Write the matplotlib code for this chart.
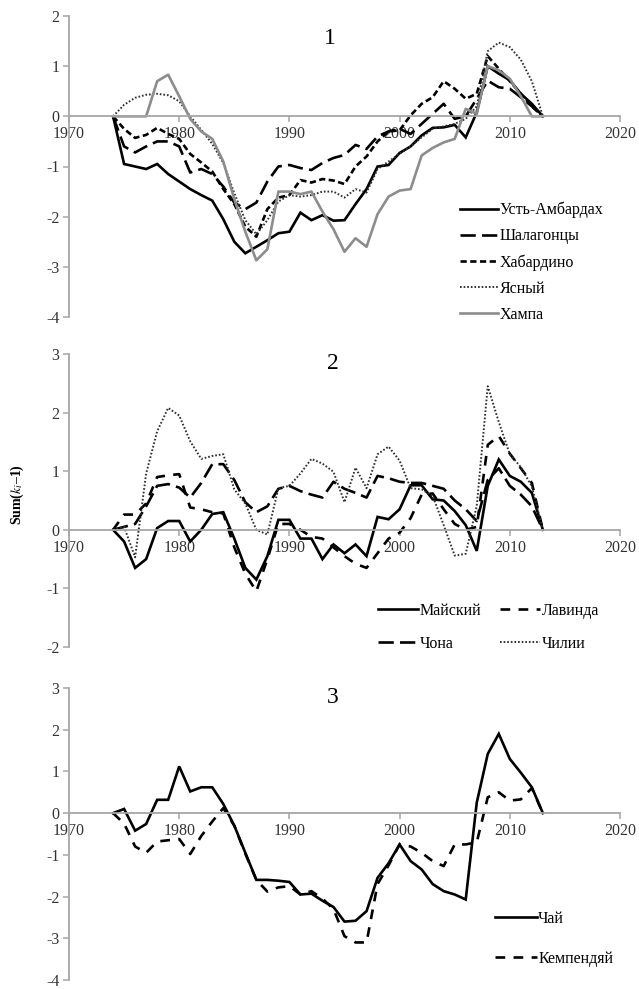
import matplotlib
matplotlib.use("Agg")
import matplotlib.pyplot as plt

plt.rcParams['font.family'] = ['Liberation Serif', 'DejaVu Serif']
plt.rcParams['mathtext.fontset'] = 'stix'
plt.rcParams['axes.unicode_minus'] = False
plt.rcParams['lines.scale_dashes'] = False

# ---- data: cumulative sums of (k_i - 1), 1974-2013 ----
years = list(range(1974, 2014))

# panel 1
ust_ambardakh = [0, -0.95, -1.0, -1.05, -0.95, -1.15, -1.3, -1.45, -1.57, -1.68,
                 -2.05, -2.5, -2.73, -2.6, -2.47, -2.33, -2.3, -1.92, -2.07, -1.97,
                 -2.08, -2.07, -1.75, -1.45, -1.0, -0.97, -0.73, -0.6, -0.38, -0.23,
                 -0.22, -0.17, -0.42, 0.08, 1.0, 0.85, 0.72, 0.45, 0.25, 0]
shalagontsy = [0, -0.6, -0.72, -0.6, -0.5, -0.5, -0.6, -1.12, -1.05, -1.15,
               -1.4, -1.72, -1.85, -1.72, -1.3, -1.0, -0.97, -1.03, -1.07, -0.93,
               -0.83, -0.77, -0.57, -0.65, -0.4, -0.3, -0.25, -0.35, -0.15, 0.05,
               0.25, -0.05, 0.0, 0.35, 0.71, 0.58, 0.55, 0.38, 0.2, 0]
khabardino = [0, -0.25, -0.43, -0.37, -0.23, -0.35, -0.45, -0.75, -0.92, -1.1,
              -1.45, -1.75, -2.2, -2.4, -1.85, -1.62, -1.57, -1.27, -1.32, -1.25,
              -1.28, -1.35, -1.0, -0.8, -0.5, -0.3, -0.28, 0.02, 0.25, 0.38,
              0.7, 0.55, 0.35, 0.45, 1.2, 0.95, 0.7, 0.45, 0.2, 0]
yasny = [0, 0.23, 0.37, 0.43, 0.45, 0.42, 0.3, 0.0, -0.27, -0.55,
         -0.93, -1.53, -2.07, -2.35, -2.07, -1.7, -1.57, -1.6, -1.57, -1.5,
         -1.5, -1.62, -1.45, -1.52, -1.05, -0.9, -0.75, -0.6, -0.42, -0.25,
         -0.2, -0.15, -0.05, 0.2, 1.3, 1.47, 1.38, 1.13, 0.7, 0]
khampa = [0, 0, 0, 0, 0.7, 0.83, 0.4, -0.05, -0.3, -0.45,
          -0.9, -1.65, -2.3, -2.87, -2.65, -1.5, -1.5, -1.55, -1.5, -1.9,
          -2.25, -2.7, -2.43, -2.6, -1.95, -1.6, -1.48, -1.45, -0.78, -0.63,
          -0.52, -0.45, 0.15, 0.05, 1.0, 0.92, 0.75, 0.4, 0.0, 0]

# panel 2
maisky = [0, -0.2, -0.65, -0.5, 0.03, 0.15, 0.15, -0.2, 0.0, 0.27,
          0.3, -0.15, -0.65, -0.85, -0.45, 0.17, 0.17, -0.15, -0.15, -0.5,
          -0.25, -0.4, -0.25, -0.45, 0.22, 0.18, 0.35, 0.76, 0.76, 0.52,
          0.5, 0.32, 0.08, -0.36, 0.75, 1.2, 0.92, 0.82, 0.63, 0]
lavinda = [0, 0.26, 0.26, 0.45, 0.9, 0.93, 0.95, 0.38, 0.35, 0.3,
           0.28, -0.3, -0.75, -1.05, -0.5, 0.1, 0.1, 0.0, -0.12, -0.15,
           -0.3, -0.45, -0.58, -0.65, -0.4, -0.15, -0.05, 0.2, 0.6, 0.62,
           0.35, 0.1, 0.0, 0.05, 1.45, 1.6, 1.3, 1.05, 0.8, 0]
chona = [0, 0.05, 0.1, 0.4, 0.75, 0.78, 0.72, 0.55, 0.8, 1.12,
         1.12, 0.85, 0.47, 0.3, 0.4, 0.7, 0.75, 0.66, 0.6, 0.55,
         0.82, 0.7, 0.63, 0.55, 0.92, 0.88, 0.82, 0.8, 0.8, 0.75,
         0.7, 0.5, 0.35, 0.15, 0.85, 1.05, 0.75, 0.6, 0.4, 0]
chilii = [0, 0.05, -0.47, 0.96, 1.68, 2.08, 1.95, 1.51, 1.21, 1.26,
          1.29, 0.69, 0.45, 0.0, -0.08, 0.71, 0.75, 0.96, 1.21, 1.13,
          0.99, 0.47, 1.06, 0.71, 1.29, 1.42, 1.18, 0.71, 0.69, 0.58,
          0.08, -0.44, -0.41, 0.41, 2.45, 1.84, 1.29, 1.07, 0.74, 0]

# panel 3
chai = [0, 0.1, -0.42, -0.26, 0.32, 0.32, 1.12, 0.52, 0.62, 0.62,
        0.22, -0.3, -0.95, -1.6, -1.6, -1.62, -1.65, -1.95, -1.93, -2.1,
        -2.25, -2.6, -2.58, -2.35, -1.55, -1.2, -0.75, -1.15, -1.35, -1.7,
        -1.87, -1.95, -2.07, 0.25, 1.42, 1.9, 1.3, 0.97, 0.62, 0]
kempendyai = [0, -0.25, -0.8, -0.95, -0.68, -0.65, -0.62, -0.98, -0.55, -0.2,
              0.12, -0.3, -0.97, -1.6, -1.88, -1.78, -1.75, -1.95, -1.87, -2.05,
              -2.3, -2.95, -3.1, -3.1, -1.7, -1.25, -0.75, -0.8, -0.95, -1.15,
              -1.27, -0.75, -0.75, -0.7, 0.38, 0.5, 0.3, 0.33, 0.6, 0]

W, H = 639, 989
fig = plt.figure(figsize=(W / 100, H / 100), dpi=100)

def px_axes(left, top, right, bottom):
    return fig.add_axes([left / W, 1 - bottom / H, (right - left) / W, (bottom - top) / H])

def style(ax, ymin, ymax):
    ax.set_xlim(1970, 2020)
    ax.set_ylim(ymin, ymax)
    for s in ['top', 'right']:
        ax.spines[s].set_visible(False)
    ax.spines['bottom'].set_position(('data', 0))
    for s in ['left', 'bottom']:
        ax.spines[s].set_color('#a6a6a6')
        ax.spines[s].set_linewidth(1.3)
    ax.set_xticks(range(1970, 2021, 10))
    ax.set_yticks(range(ymin, ymax + 1))
    ax.tick_params(colors='#a6a6a6', labelcolor='#333333', labelsize=11.5,
                   length=4, width=1.1, direction='out')
    ax.tick_params(axis='x', pad=3)
    ax.tick_params(axis='y', pad=3)
    ax.patch.set_alpha(0)

solid = dict(color='black', lw=1.9, solid_joinstyle='miter')
long_dash = dict(color='black', lw=1.9, dashes=(11, 4.5))
short_dash = dict(color='black', lw=1.9, dashes=(4.5, 2.5))
dotted = dict(color='#303030', lw=1.4, dashes=(1.2, 1.4))
mid_dash = dict(color='black', lw=1.9, dashes=(7, 6))
grey = dict(color='#8c8c8c', lw=1.9)

leg_kw = dict(frameon=False, fontsize=11.5, handletextpad=0.1, borderpad=0,
              borderaxespad=0, bbox_transform=fig.transFigure, loc='upper left')

# ---- panel 1 ----
ax1 = px_axes(69, 16, 620, 317)
style(ax1, -4, 2)
ax1.plot(years, ust_ambardakh, label='Усть-Амбардах', **solid)
ax1.plot(years, shalagontsy, label='Шалагонцы', **long_dash)
ax1.plot(years, khabardino, label='Хабардино', **short_dash)
ax1.plot(years, yasny, label='Ясный', **dotted)
ax1.plot(years, khampa, label='Хампа', **grey)
ax1.text(0.474, 0.925, '1', transform=ax1.transAxes, fontsize=17,
         ha='center', va='center')
ax1.legend(bbox_to_anchor=(460 / W, 1 - 202 / H), handlelength=2.4,
           labelspacing=0.62, **leg_kw)

# ---- panel 2 ----
ax2 = px_axes(69, 354, 620, 647)
style(ax2, -2, 3)
l_m, = ax2.plot(years, maisky, label='Майский', **solid)
l_l, = ax2.plot(years, lavinda, label='Лавинда', **mid_dash)
l_c, = ax2.plot(years, chona, label='Чона', **long_dash)
l_ch, = ax2.plot(years, chilii, label='Чилии', **dotted)
ax2.text(0.479, 0.968, '2', transform=ax2.transAxes, fontsize=17,
         ha='center', va='center')
ax2.legend([l_m, l_c, l_l, l_ch], ['Майский', 'Чона', 'Лавинда', 'Чилии'],
           ncol=2, bbox_to_anchor=(378 / W, 1 - 603 / H), handlelength=2.5,
           labelspacing=1.05, columnspacing=1.2, **leg_kw)

# ---- panel 3 ----
ax3 = px_axes(69, 688, 620, 980)
style(ax3, -4, 3)
ax3.plot(years, chai, label='Чай', **solid)
ax3.plot(years, kempendyai, label='Кемпендяй', **mid_dash)
ax3.text(0.479, 0.966, '3', transform=ax3.transAxes, fontsize=17,
         ha='center', va='center')
ax3.legend(bbox_to_anchor=(495 / W, 1 - 911 / H), handlelength=2.6,
           labelspacing=1.5, **leg_kw)

fig.text(17 / W, 1 - 495 / H, 'Sum($k_i$–1)', rotation=90, fontsize=10,
         fontweight='bold', ha='center', va='center')

fig.savefig('out.png', dpi=100)
